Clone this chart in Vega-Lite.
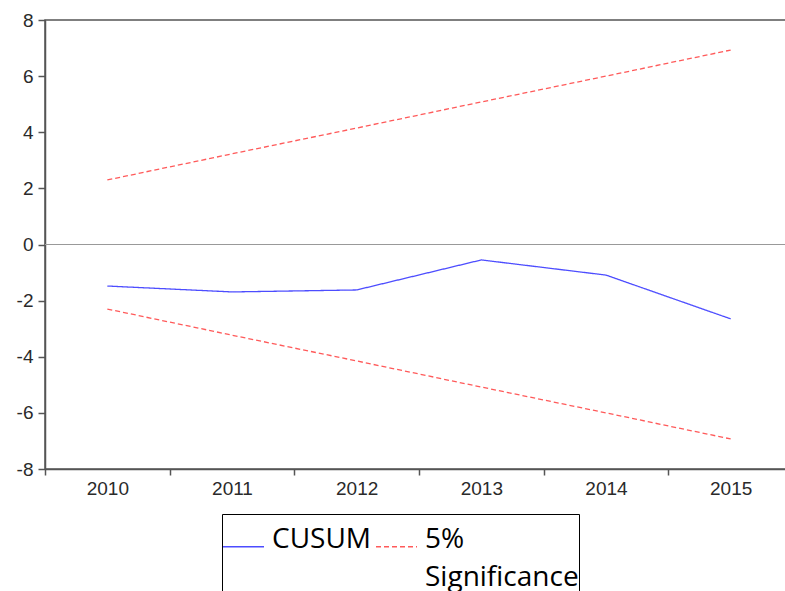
{
  "$schema": "https://vega.github.io/schema/vega-lite/v6.json",
  "width": 748,
  "height": 449,
  "autosize": {"type": "none"},
  "padding": {"left": 45, "top": 20, "right": 0, "bottom": 122},
  "background": "white",
  "config": {
    "view": {"stroke": "#555555", "strokeWidth": 1.5},
    "font": "Liberation Sans",
    "axis": {
      "labelFont": "Liberation Sans",
      "labelFontSize": 19,
      "labelColor": "#2a2a2a",
      "domainColor": "#555555",
      "domainWidth": 1.5,
      "tickColor": "#555555",
      "tickWidth": 1.5,
      "grid": false,
      "title": null
    }
  },
  "data": {
    "values": [
      {"year": "2010", "line": "CUSUM", "series": "CUSUM", "value": -1.48},
      {"year": "2011", "line": "CUSUM", "series": "CUSUM", "value": -1.69},
      {"year": "2012", "line": "CUSUM", "series": "CUSUM", "value": -1.62},
      {"year": "2013", "line": "CUSUM", "series": "CUSUM", "value": -0.55},
      {"year": "2014", "line": "CUSUM", "series": "CUSUM", "value": -1.09},
      {"year": "2015", "line": "CUSUM", "series": "CUSUM", "value": -2.65},
      {"year": "2010", "line": "upper", "series": "5% Significance", "value": 2.30},
      {"year": "2011", "line": "upper", "series": "5% Significance", "value": 3.23},
      {"year": "2012", "line": "upper", "series": "5% Significance", "value": 4.15},
      {"year": "2013", "line": "upper", "series": "5% Significance", "value": 5.08},
      {"year": "2014", "line": "upper", "series": "5% Significance", "value": 6.00},
      {"year": "2015", "line": "upper", "series": "5% Significance", "value": 6.93},
      {"year": "2010", "line": "lower", "series": "5% Significance", "value": -2.30},
      {"year": "2011", "line": "lower", "series": "5% Significance", "value": -3.23},
      {"year": "2012", "line": "lower", "series": "5% Significance", "value": -4.15},
      {"year": "2013", "line": "lower", "series": "5% Significance", "value": -5.08},
      {"year": "2014", "line": "lower", "series": "5% Significance", "value": -6.00},
      {"year": "2015", "line": "lower", "series": "5% Significance", "value": -6.93}
    ]
  },
  "layer": [
    {
      "mark": {"type": "rule", "color": "#999999", "strokeWidth": 1.2},
      "encoding": {"y": {"datum": 0, "type": "quantitative"}}
    },
    {
      "mark": {"type": "line", "strokeWidth": 1.3},
      "encoding": {
        "x": {
          "field": "year",
          "type": "ordinal",
          "bandPosition": 0.5,
          "scale": {"type": "band", "paddingInner": 0, "paddingOuter": 0},
          "axis": {"tickBand": "extent", "labelAngle": 0, "tickSize": 6, "labelPadding": 4}
        },
        "y": {
          "field": "value",
          "type": "quantitative",
          "scale": {"domain": [-8, 8], "nice": false, "zero": false},
          "axis": {"values": [-8, -6, -4, -2, 0, 2, 4, 6, 8], "tickSize": 7, "labelPadding": 5, "labelExpr": "'' + datum.value"}
        },
        "color": {
          "field": "series",
          "type": "nominal",
          "scale": {"domain": ["CUSUM", "5% Significance"], "range": ["#4d4dff", "#ff5a5a"]},
          "legend": {
            "orient": "none",
            "legendX": 177,
            "legendY": 494,
            "direction": "horizontal",
            "title": "\u00a0",
            "titleFontSize": 6,
            "titlePadding": 5,
            "symbolType": "stroke",
            "symbolSize": 1681,
            "symbolStrokeWidth": 1.3,
            "labelFont": "Open Sans",
            "labelFontSize": 28,
            "labelColor": "#000000",
            "labelLimit": 400,
            "labelOffset": 7,
            "columnPadding": 2,
            "strokeColor": "#000000",
            "padding": 0,
            "labelExpr": "datum.label == '5% Significance' ? ['5%', 'Significance\u00a0\u00a0'] : [datum.label, '']",
            "encode": {"labels": {"update": {
              "lineHeight": {"value": 38},
              "dy": {"value": -7}
            }}}
          }
        },
        "strokeDash": {
          "field": "series",
          "type": "nominal",
          "scale": {"domain": ["CUSUM", "5% Significance"], "range": [[1, 0], [5, 3]]}
        },
        "detail": {"field": "line", "type": "nominal"}
      }
    }
  ]
}
